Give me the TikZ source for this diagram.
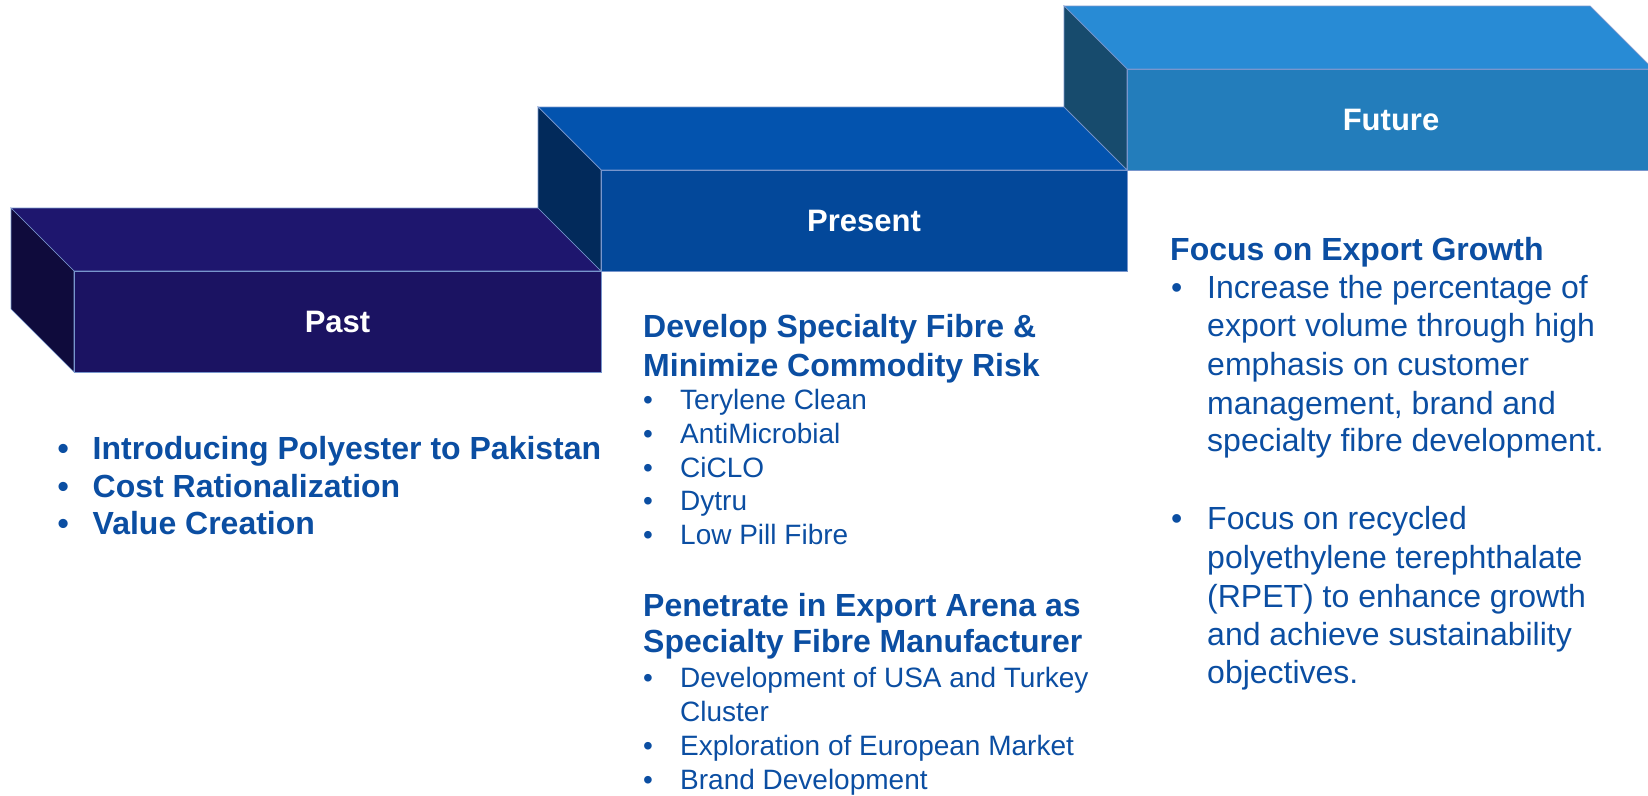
\documentclass[tikz,border=0pt]{standalone}
\usepackage{fontspec}
\setmainfont{Liberation Sans}
\definecolor{txt}{RGB}{11,78,162}
\definecolor{edge}{RGB}{120,150,205}
\definecolor{pastF}{RGB}{27,19,98}
\definecolor{pastT}{RGB}{30,22,110}
\definecolor{pastL}{RGB}{15,11,60}
\definecolor{presF}{RGB}{3,72,154}
\definecolor{presT}{RGB}{3,83,174}
\definecolor{presL}{RGB}{2,42,91}
\definecolor{futF}{RGB}{35,125,187}
\definecolor{futT}{RGB}{40,139,213}
\definecolor{futL}{RGB}{23,75,109}
\tikzset{
  face/.style={draw=edge, line width=0.7pt, line join=miter},
  boxlabel/.style={text=white, font=\fontsize{31}{36}\selectfont\bfseries, inner sep=0pt},
  bolditem/.style={text=txt, font=\fontsize{32}{38}\selectfont\bfseries, anchor=base west, inner sep=0pt},
  regitem/.style={text=txt, font=\fontsize{28}{34}\selectfont, anchor=base west, inner sep=0pt},
  bigitem/.style={text=txt, font=\fontsize{32}{38}\selectfont, anchor=base west, inner sep=0pt},
}
\begin{document}
\begin{tikzpicture}[x=1pt,y=-1pt]
\useasboundingbox (0,0) rectangle (1648,795);
\begin{scope}
\clip (0,0) rectangle (1648,795);
% Past box
\fill[pastT, face] (11,208) -- (538,208) -- (601,271) -- (74,271) -- cycle;
\fill[pastL, face] (11,208) -- (74,271) -- (74,372) -- (11,309) -- cycle;
\fill[pastF, face] (74,271) rectangle (601,372);
% Present box
\fill[presT, face] (538,107) -- (1064,107) -- (1127,170) -- (601,170) -- cycle;
\fill[presL, face] (538,107) -- (601,170) -- (601,271) -- (538,208) -- cycle;
\fill[presF, face] (601,170) rectangle (1127,271);
% Future box
\fill[futT, face] (1064,6) -- (1590,6) -- (1653,69) -- (1127,69) -- cycle;
\fill[futL, face] (1064,6) -- (1127,69) -- (1127,170) -- (1064,107) -- cycle;
\fill[futF, face] (1127,69) rectangle (1663,170);
\end{scope}
\node[boxlabel] (pastlbl) at (337.5,321.5) {Past};
\node[boxlabel] (preslbl) at (864,220.5) {Present};
\node[boxlabel] (futlbl) at (1391,119.5) {Future};
% Past items
\node[bolditem] (pb1) at (57.5,459) {•};
\node[bolditem] (pt1) at (92.5,459) {Introducing Polyester to Pakistan};
\node[bolditem] (pb2) at (57.5,497) {•};
\node[bolditem] (pt2) at (92.5,497) {Cost Rationalization};
\node[bolditem] (pb3) at (57.5,534) {•};
\node[bolditem] (pt3) at (92.5,534) {Value Creation};
% Present block 1
\node[bolditem] (ph1) at (643,337) {Develop Specialty Fibre \&};
\node[bolditem] (ph2) at (643,376) {Minimize Commodity Risk};
\node[regitem] (qb1) at (643,409) {•};
\node[regitem] (qt1) at (680,409) {Terylene Clean};
\node[regitem] (qb2) at (643,443) {•};
\node[regitem] (qt2) at (680,443) {AntiMicrobial};
\node[regitem] (qb3) at (643,477) {•};
\node[regitem] (qt3) at (680,477) {CiCLO};
\node[regitem] (qb4) at (643,510) {•};
\node[regitem] (qt4) at (680,510) {Dytru};
\node[regitem] (qb5) at (643,544) {•};
\node[regitem] (qt5) at (680,544) {Low Pill Fibre};
% Present block 2
\node[bolditem] (ph3) at (643,616) {Penetrate in Export Arena as};
\node[bolditem] (ph4) at (643,652) {Specialty Fibre Manufacturer};
\node[regitem] (rb1) at (643,687) {•};
\node[regitem] (rt1) at (680,687) {Development of USA and Turkey};
\node[regitem] (rt1b) at (680,721) {Cluster};
\node[regitem] (rb2) at (643,755) {•};
\node[regitem] (rt2) at (680,755) {Exploration of European Market};
\node[regitem] (rb3) at (643,789) {•};
\node[regitem] (rt3) at (680,789) {Brand Development};
% Future
\node[bolditem] (fh) at (1170,260) {Focus on Export Growth};
\node[bigitem] (fb1) at (1171,298) {•};
\node[bigitem] (f1a) at (1207,298) {Increase the percentage of};
\node[bigitem] (f1b) at (1207,336) {export volume through high};
\node[bigitem] (f1c) at (1207,375) {emphasis on customer};
\node[bigitem] (f1d) at (1207,414) {management, brand and};
\node[bigitem] (f1e) at (1207,451) {specialty fibre development.};
\node[bigitem] (fb2) at (1171,529) {•};
\node[bigitem] (f2a) at (1207,529) {Focus on recycled};
\node[bigitem] (f2b) at (1207,568) {polyethylene terephthalate};
\node[bigitem] (f2c) at (1207,607) {(RPET) to enhance growth};
\node[bigitem] (f2d) at (1207,645) {and achieve sustainability};
\node[bigitem] (f2e) at (1207,683) {objectives.};
\end{tikzpicture}
\end{document}
